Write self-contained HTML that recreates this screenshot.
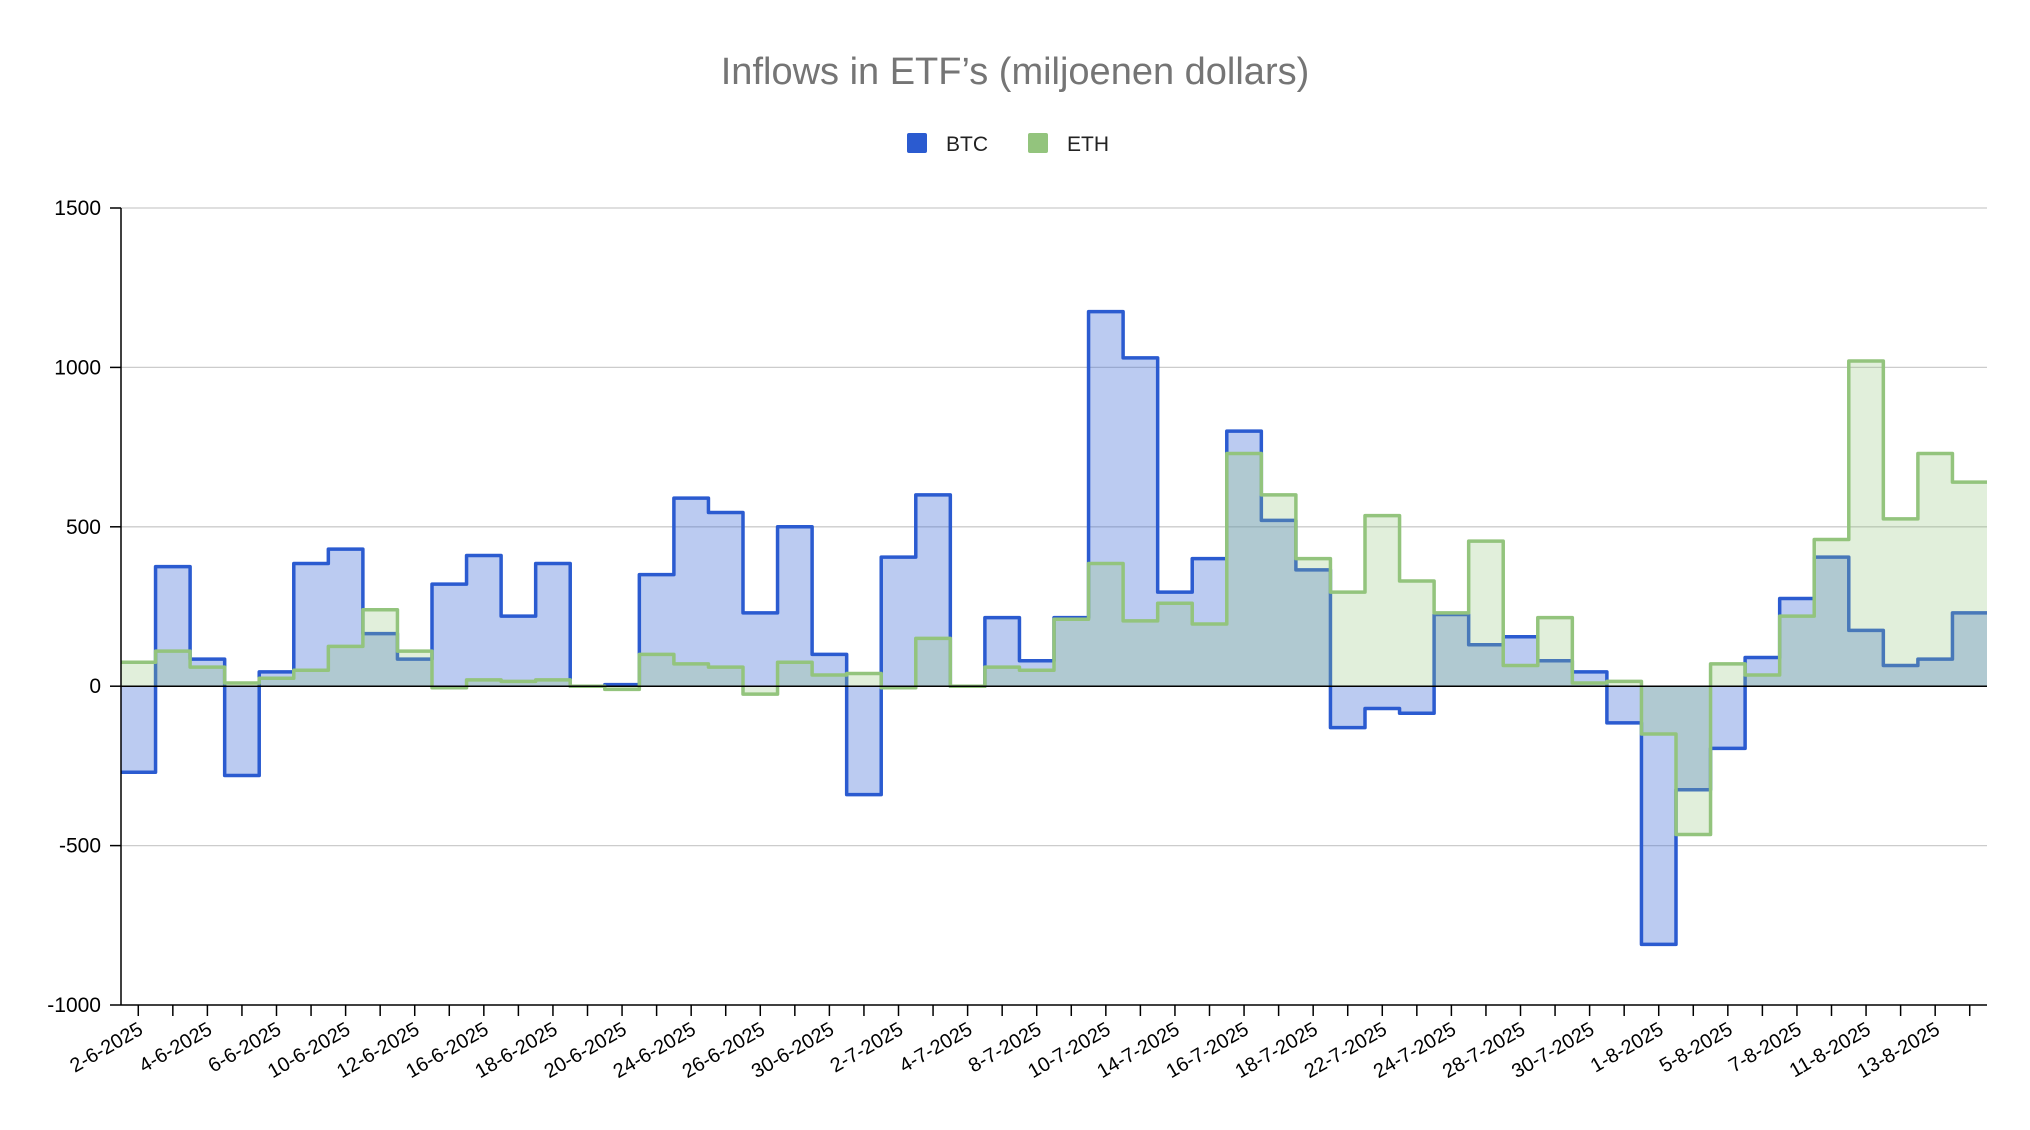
<!DOCTYPE html>
<html><head><meta charset="utf-8"><style>
html,body{margin:0;padding:0;background:#fff;}
svg{display:block;font-family:"Liberation Sans",Arial,sans-serif;}
</style></head><body>
<svg id="chart" width="2030" height="1130" viewBox="0 0 2030 1130" xmlns="http://www.w3.org/2000/svg">
<rect width="2030" height="1130" fill="#fff"/>
<text x="1015" y="84" text-anchor="middle" font-size="38" fill="#757575">Inflows in ETF’s (miljoenen dollars)</text>
<g>
<rect x="907" y="133" width="20" height="20" fill="#2b5bd0" rx="2"/>
<text x="946" y="151" font-size="21" fill="#222">BTC</text>
<rect x="1028" y="133" width="20" height="20" fill="#93c47d" rx="2"/>
<text x="1067" y="151" font-size="21" fill="#222">ETH</text>
</g>
<g id="grid"></g><g id="series"></g><g id="axes"></g>
</svg>
<script>
const dates=["2-6-2025","3-6-2025","4-6-2025","5-6-2025","6-6-2025","9-6-2025","10-6-2025","11-6-2025","12-6-2025","13-6-2025","16-6-2025","17-6-2025","18-6-2025","19-6-2025","20-6-2025","23-6-2025","24-6-2025","25-6-2025","26-6-2025","27-6-2025","30-6-2025","1-7-2025","2-7-2025","3-7-2025","4-7-2025","7-7-2025","8-7-2025","9-7-2025","10-7-2025","11-7-2025","14-7-2025","15-7-2025","16-7-2025","17-7-2025","18-7-2025","21-7-2025","22-7-2025","23-7-2025","24-7-2025","25-7-2025","28-7-2025","29-7-2025","30-7-2025","31-7-2025","1-8-2025","4-8-2025","5-8-2025","6-8-2025","7-8-2025","8-8-2025","11-8-2025","12-8-2025","13-8-2025","14-8-2025"];
const btc=[-270,375,85,-280,45,385,430,165,85,320,410,220,385,0,5,350,590,545,230,500,100,-340,405,600,0,215,80,215,1175,1030,295,400,800,520,365,-130,-70,-85,225,130,155,80,45,-115,-810,-325,-195,90,275,405,175,65,85,230];
const eth=[75,110,60,10,25,50,125,240,110,-5,20,15,20,0,-10,100,70,60,-25,75,35,40,-5,150,0,60,50,210,385,205,260,195,730,600,400,295,535,330,230,455,65,215,10,15,-150,-465,70,35,220,460,1020,525,730,640];
const yTicks=[-1000,-500,0,500,1000,1500];
const NS="http://www.w3.org/2000/svg";
const X0=121,X1=1987,Y0=1005,Y1=208,VMIN=-1000,VMAX=1500;
const n=dates.length,bw=(X1-X0)/n;
const xL=i=>X0+i*bw, xC=i=>X0+(i+0.5)*bw;
const y=v=>Y0-(v-VMIN)/(VMAX-VMIN)*(Y0-Y1);
function mk(tag,attrs,parent){const e=document.createElementNS(NS,tag);for(const k in attrs)e.setAttribute(k,attrs[k]);parent.appendChild(e);return e;}
const grid=document.getElementById('grid'),series=document.getElementById('series'),axes=document.getElementById('axes');
yTicks.forEach(t=>{
 if(t!==0&&t!==VMIN){const g=mk('line',{x1:X0,x2:X1,y1:y(t),y2:y(t),stroke:'#cccccc','stroke-width':1.3},grid);
 
 }
 const tk=mk('line',{x1:X0-11,x2:X0,y1:y(t),y2:y(t),stroke:'#000','stroke-width':1.5},axes);
 
 
 const lb=mk('text',{x:X0-20,y:y(t)+7,'text-anchor':'end','font-size':21,fill:'#000'},axes);
 lb.textContent=t;
 
 
});
function stepPath(vals){let d='M'+X0+','+y(0);vals.forEach((v,i)=>{d+=' L'+xL(i)+','+y(v)+' L'+xL(i+1)+','+y(v);});return d;}
function drawSeries(vals,fill,fop,stroke,name){
 const d=stepPath(vals);
 const a=mk('path',{d:d+' L'+X1+','+y(0)+' Z',fill:fill,'fill-opacity':fop,stroke:'none'},series);
 
 
 let ld='';vals.forEach((v,i)=>{ld+=(i?' L':'M')+xL(i)+','+y(v)+' L'+xL(i+1)+','+y(v);});
 const l=mk('path',{d:ld,fill:'none',stroke:stroke,'stroke-width':3.5,'stroke-linejoin':'round'},series);
 
 
}
drawSeries(btc,'#3d6ad6',0.35,'#2b5bd0','btc');
drawSeries(eth,'#93c47d',0.28,'#93c47d','eth');
const zl=mk('line',{x1:X0,x2:X1,y1:y(0),y2:y(0),stroke:'#000','stroke-width':1.5},axes);


const xa=mk('line',{x1:X0,x2:X1,y1:Y0,y2:Y0,stroke:'#000','stroke-width':1.5},axes);


const ya=mk('line',{x1:X0,x2:X0,y1:Y1,y2:Y0,stroke:'#000','stroke-width':1.5},axes);


dates.forEach((dt,i)=>{
 const tk=mk('line',{x1:xC(i),x2:xC(i),y1:Y0,y2:Y0+11,stroke:'#000','stroke-width':1.5},axes);
 
 
 if(i%2===0){
  const tx=xC(i)+6,ty=Y0+28;
  const lb=mk('text',{x:tx,y:ty,'text-anchor':'end','font-size':20,fill:'#000',transform:'rotate(-30 '+tx+' '+ty+')'},axes);
  lb.textContent=dt;
  
  
 }
});
</script>
</body></html>
